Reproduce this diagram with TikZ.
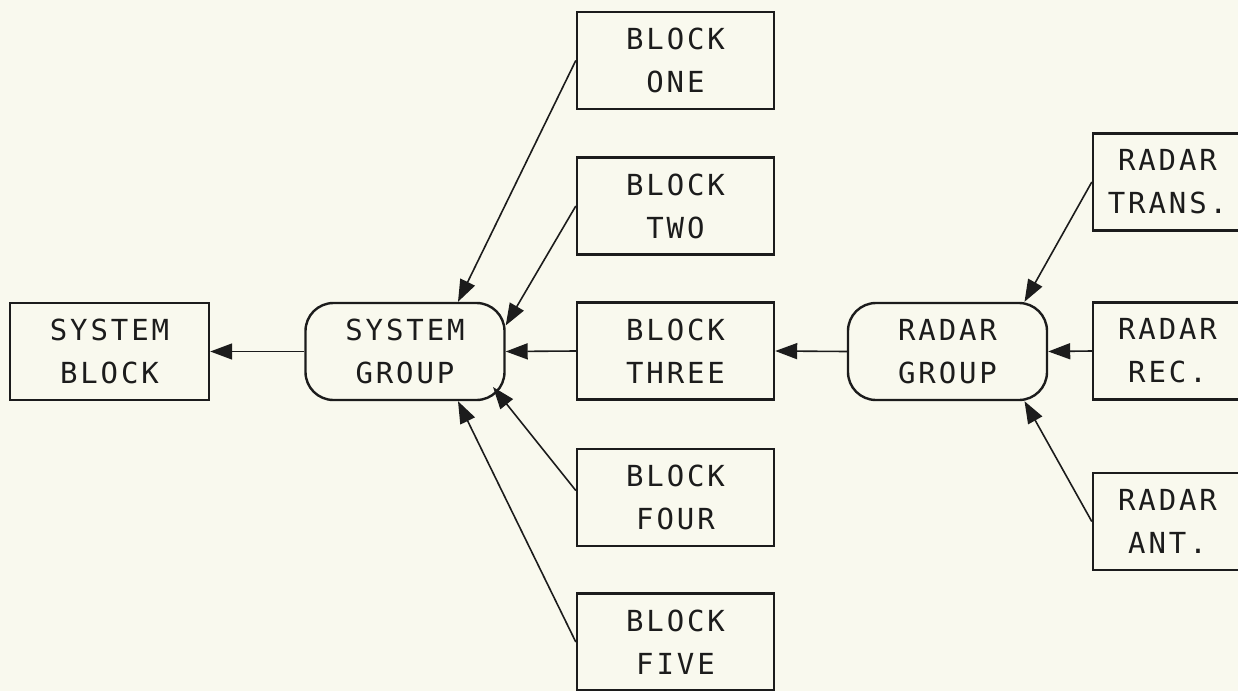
\documentclass[tikz,border=0pt]{standalone}
\usepackage{fontspec}
\newfontfamily\plotfont[LetterSpace=10]{DejaVu Sans Mono}
\usetikzlibrary{arrows.meta}
\definecolor{paper}{RGB}{249,249,238}
\definecolor{ink}{RGB}{28,28,28}
\begin{document}
\begin{tikzpicture}[x=0.5pt,y=-0.5pt,
  box/.style={draw=ink,line width=1.2pt,inner sep=0pt,minimum width=98.5pt,minimum height=48.5pt,
    align=center,text=ink,font=\plotfont\fontsize{14.5pt}{21.5pt}\selectfont},
  grp/.style={box,rounded corners=14pt,minimum width=99.5pt},
  conn/.style={draw=ink,line width=0.8pt,-{Triangle[length=11pt,width=8pt]}}]
\fill[paper] (0,0) rectangle (1238,691);
\useasboundingbox (0,0) rectangle (1238,691);
\clip (0,0) rectangle (1238,691);
% nodes
\node[box,minimum width=99.5pt] (sb) at (109.5,351.5) {SYSTEM\\BLOCK};
\node[grp] (sg) at (405,351.5) {SYSTEM\\GROUP};
\node[box] (b1) at (675.5,60.5) {BLOCK\\ONE};
\node[box] (b2) at (675.5,206) {BLOCK\\TWO};
\node[box] (b3) at (675.5,351) {BLOCK\\THREE};
\node[box] (b4) at (675.5,497.5) {BLOCK\\FOUR};
\node[box] (b5) at (675.5,642) {BLOCK\\FIVE};
\node[grp] (rg) at (947.5,351.5) {RADAR\\GROUP};
\node[box,minimum width=74.5pt] (rt) at (1167.5,182) {RADAR\\TRANS.};
\node[box,minimum width=74.5pt] (rr) at (1167.5,351) {RADAR\\REC.};
\node[box,minimum width=74.5pt] (ra) at (1167.5,521.5) {RADAR\\ANT.};
% connectors
\draw[conn] (sg.west) -- (sb.east);
\draw[conn] (b1.west) -- ([xshift=26.5pt]sg.north);
\draw[conn] (b2.west) -- ([yshift=13pt]sg.east);
\draw[conn] (b3.west) -- (sg.east);
\draw[conn] ([yshift=3.5pt]b4.west) -- ([xshift=44pt,yshift=-17.75pt]sg.center);
\draw[conn] (b5.west) -- ([xshift=26.5pt]sg.south);
\draw[conn] (rg.west) -- (b3.east);
\draw[conn] (rr.west) -- (rg.east);
\draw[conn] (rt.west) -- ([xshift=38.5pt]rg.north);
\draw[conn] (ra.west) -- ([xshift=38.5pt]rg.south);
\end{tikzpicture}
\end{document}
